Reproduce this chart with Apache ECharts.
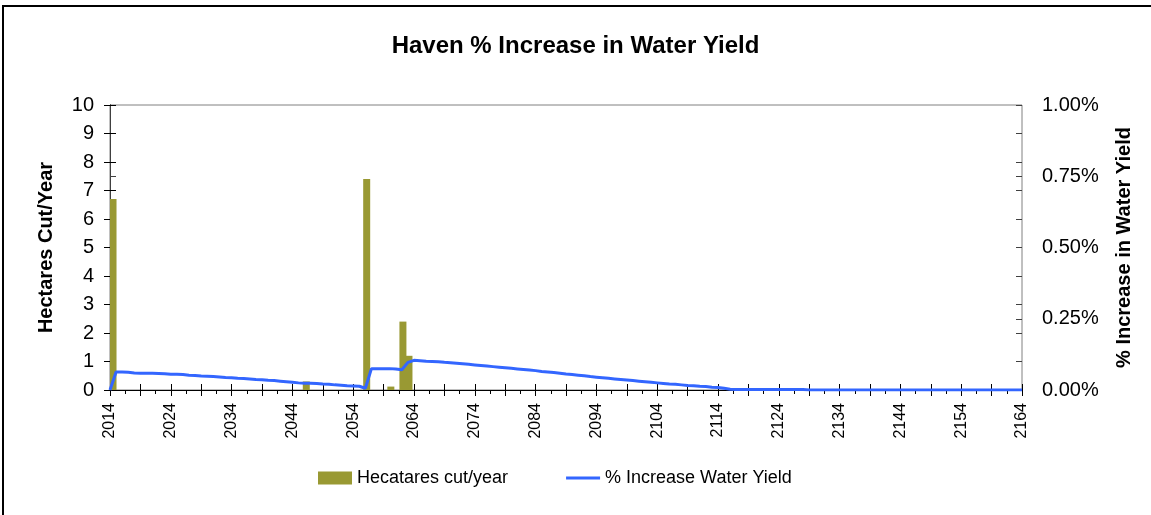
<!DOCTYPE html>
<html>
<head>
<meta charset="utf-8">
<script src="https://cdn.jsdelivr.net/npm/echarts@6/dist/echarts.min.js"></script>
<style>
  html, body { margin: 0; padding: 0; background: #fff; }
  #frame { position: absolute; left: 2px; top: 5px; width: 1149px; height: 510px;
           border-top: 2px solid #000; border-left: 2px solid #000; pointer-events: none; }
  #chart { position: absolute; left: 0; top: 0; width: 1151px; height: 515px; }
</style>
</head>
<body>
<div id="chart"></div>
<div id="frame"></div>
<script>
// first year of the axis, one category per year up to 2164
const firstYear = 2014;
const lastYear = 2164;
const years = [];
for (let y = firstYear; y <= lastYear; y++) years.push(String(y));

// hectares cut per year (only the years with a cut)
const cutYears = ['2014', '2046', '2056', '2060', '2062', '2063'];
const hectaresCut = [6.7, 0.3, 7.4, 0.12, 2.4, 1.2];

// % increase in water yield, one value per year 2014..2164
const waterYield = [
  0, 0.063, 0.063, 0.062, 0.060, 0.059, 0.059, 0.059, 0.058, 0.057,
  0.055, 0.055, 0.054, 0.052, 0.051, 0.049, 0.048, 0.047, 0.046, 0.044,
  0.043, 0.041, 0.040, 0.039, 0.037, 0.036, 0.034, 0.033, 0.031, 0.029,
  0.027, 0.025, 0.024, 0.024, 0.023, 0.021, 0.020, 0.018, 0.017, 0.015,
  0.014, 0.013, 0.006, 0.075, 0.075, 0.075, 0.075, 0.074, 0.071, 0.097,
  0.104, 0.103, 0.101, 0.100, 0.099, 0.097, 0.096, 0.094, 0.092, 0.090,
  0.088, 0.086, 0.084, 0.082, 0.080, 0.078, 0.076, 0.074, 0.072, 0.070,
  0.068, 0.065, 0.063, 0.061, 0.059, 0.056, 0.054, 0.052, 0.050, 0.047,
  0.045, 0.043, 0.041, 0.039, 0.037, 0.035, 0.033, 0.031, 0.029, 0.027,
  0.025, 0.023, 0.021, 0.020, 0.018, 0.016, 0.015, 0.013, 0.012, 0.010,
  0.009, 0.006, 0.003, 0.002, 0.002, 0.002, 0.002, 0.002, 0.002, 0.002,
  0.002, 0.002, 0.002, 0.002, 0.002, 0, 0, 0, 0, 0,
  0, 0, 0, 0, 0, 0, 0, 0, 0, 0,
  0, 0, 0, 0, 0, 0, 0, 0, 0, 0,
  0, 0, 0, 0, 0, 0, 0, 0, 0, 0,
  0
];

const leftTicks = { min: 0, max: 10, interval: 1 };
const rightTicks = { min: 0, max: 1, interval: 0.25 };

const font = "'Liberation Sans', Arial, sans-serif";
const span = lastYear - firstYear;

const myChart = echarts.init(document.getElementById('chart'));

// year axis is drawn as offsets from 2014 so ticks start at the first year
const yearAxis = {
  type: 'value', gridIndex: 0, position: 'bottom',
  min: 0, max: span, interval: 5,
  splitLine: { show: false }
};

const option = {
  animation: false,
  backgroundColor: 'transparent',
  title: {
    text: 'Haven % Increase in Water Yield',
    left: 'center',
    top: 29,
    textStyle: { fontFamily: font, fontSize: 24, fontWeight: 'bold', color: '#000' }
  },
  legend: {
    left: 318,
    top: 469,
    padding: 0,
    itemWidth: 34,
    itemHeight: 13,
    itemGap: 58,
    symbolKeepAspect: true,
    textStyle: { fontFamily: font, fontSize: 18, color: '#000' },
    data: [
      { name: 'Hecatares cut/year', icon: 'rect' },
      // thin bar as the legend key of the line
      { name: '% Increase Water Yield', icon: 'path://M0,0H34V3H0Z' }
    ]
  },
  grid: {
    left: 110, right: 129, top: 105, bottom: 125,
    show: true, borderColor: '#808080', borderWidth: 1, backgroundColor: 'transparent'
  },
  xAxis: [
    Object.assign({}, yearAxis, {
      axisLine: { lineStyle: { color: '#000', width: 1 } },
      axisTick: { show: true, length: 6, lineStyle: { color: '#000' } },
      minorTick: { show: true, splitNumber: 2, length: 4, lineStyle: { color: '#000' } },
      axisLabel: {
        rotate: 90, margin: 13, fontFamily: font, fontSize: 16, color: '#000',
        formatter: v => (v % 10 === 0 ? String(v + firstYear) : '')
      }
    }),
    {
      type: 'category', data: years, boundaryGap: true, show: false
    },
    Object.assign({}, yearAxis, {
      axisLine: { show: false },
      axisTick: { show: true, inside: true, length: 6, lineStyle: { color: '#000' } },
      axisLabel: { show: false }
    })
  ],
  yAxis: [
    {
      type: 'value', position: 'left',
      min: leftTicks.min, max: leftTicks.max, interval: leftTicks.interval,
      name: 'Hectares Cut/Year', nameLocation: 'middle', nameGap: 54, nameRotate: 90,
      nameTextStyle: { fontFamily: font, fontSize: 20, fontWeight: 'bold', color: '#000' },
      axisLine: { show: true, lineStyle: { color: '#000' } },
      axisTick: { show: true, length: 6, lineStyle: { color: '#000' } },
      axisLabel: { margin: 16, fontFamily: font, fontSize: 20, color: '#000' },
      splitLine: { show: false }
    },
    {
      type: 'value', position: 'right',
      min: rightTicks.min, max: rightTicks.max, interval: rightTicks.interval,
      name: '% Increase in Water Yield', nameLocation: 'middle', nameGap: 92, nameRotate: 90,
      nameTextStyle: { fontFamily: font, fontSize: 20, fontWeight: 'bold', color: '#000' },
      axisLine: { show: true, lineStyle: { color: '#404040' } },
      axisTick: { show: true, length: 6, lineStyle: { color: '#404040' } },
      axisLabel: {
        margin: 20, fontFamily: font, fontSize: 20, color: '#000',
        formatter: v => v.toFixed(2) + '%'
      },
      splitLine: { show: false }
    },
    {
      type: 'value', position: 'left',
      min: leftTicks.min, max: leftTicks.max, interval: leftTicks.interval,
      axisLine: { show: false },
      axisTick: { show: true, inside: true, length: 6, lineStyle: { color: '#000' } },
      axisLabel: { show: false },
      splitLine: { show: false }
    },
    {
      type: 'value', position: 'right',
      min: 0, max: 1, interval: 0.1,
      axisLine: { show: false },
      axisTick: { show: true, inside: true, length: 6, lineStyle: { color: '#404040' } },
      axisLabel: { show: false },
      splitLine: { show: false }
    },
    {
      type: 'value', position: 'right',
      min: rightTicks.min, max: rightTicks.max, interval: rightTicks.interval,
      axisLine: { show: false },
      axisTick: { show: true, inside: true, length: 6, lineStyle: { color: '#404040' } },
      axisLabel: { show: false },
      splitLine: { show: false }
    }
  ],
  series: [
    {
      name: 'Hecatares cut/year',
      type: 'bar',
      xAxisIndex: 1,
      yAxisIndex: 0,
      barWidth: 7,
      itemStyle: { color: '#999933' },
      data: cutYears.map((y, i) => [y, hectaresCut[i]])
    },
    {
      name: '% Increase Water Yield',
      type: 'line',
      xAxisIndex: 0,
      yAxisIndex: 1,
      symbol: 'none',
      lineStyle: { color: '#3366ff', width: 3 },
      itemStyle: { color: '#3366ff' },
      data: waterYield.map((v, i) => [i, v])
    }
  ]
};

myChart.setOption(option);
</script>
</body>
</html>
